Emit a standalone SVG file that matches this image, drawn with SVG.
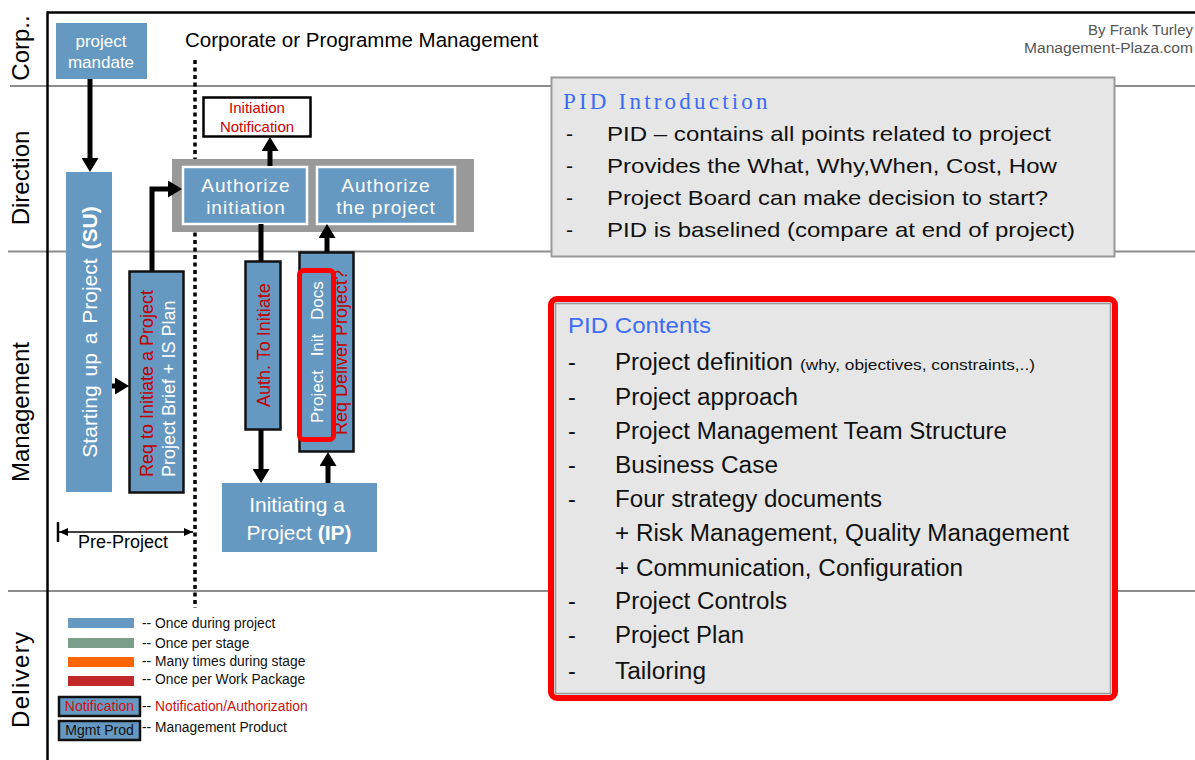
<svg xmlns="http://www.w3.org/2000/svg" width="1195" height="760" viewBox="0 0 1195 760">
<defs>
<marker id="ah" viewBox="0 0 14 17" refX="4" refY="8.5" markerWidth="14" markerHeight="17" markerUnits="userSpaceOnUse" orient="auto"><path d="M0,0 L14,8.5 L0,17 z" fill="#000"/></marker>
<marker id="sa" viewBox="0 0 9 8" refX="9" refY="4" markerWidth="9" markerHeight="8" markerUnits="userSpaceOnUse" orient="auto-start-reverse"><path d="M0,0 L9,4 L0,8 z" fill="#000"/></marker>
<style>
text{font-family:"Liberation Sans",Arial,sans-serif}
.blue{fill:#6699c2}
.prod{fill:#6699c2;stroke:#111;stroke-width:2.5}
.wt{fill:#fff}
.rd{fill:#c00000}
.conn{stroke:#000;stroke-width:5;fill:none}
.lane{stroke:#8c8c8c;stroke-width:2}
.lanel{font-size:24px;fill:#000}
.auth{fill:#6699c2;stroke:#fff;stroke-width:2.5}
.authT{font-size:19px;fill:#fff;letter-spacing:1px;text-anchor:middle}
.bul{font-size:21px;fill:#111}
.cnt{font-size:23.5px;fill:#111}
.leg{font-size:13.8px;fill:#111}
</style>
</defs>

<!-- lanes and frame -->
<g id="lanes">
<line class="lane" x1="10" y1="86" x2="1195" y2="86"/>
<line class="lane" x1="8" y1="251.5" x2="1195" y2="251.5"/>
<line class="lane" x1="8" y1="591" x2="1195" y2="591"/>
<line x1="47" y1="12.5" x2="1195" y2="12.5" stroke="#000" stroke-width="2.5"/>
<line x1="47.5" y1="11.5" x2="47.5" y2="760" stroke="#000" stroke-width="2.5"/>
<text class="lanel" transform="translate(29,48) rotate(-90)" text-anchor="middle">Corp..</text>
<text class="lanel" transform="translate(29,178) rotate(-90)" text-anchor="middle">Direction</text>
<text class="lanel" transform="translate(29,412) rotate(-90)" text-anchor="middle">Management</text>
<text class="lanel" transform="translate(29,680) rotate(-90)" text-anchor="middle" textLength="96">Delivery</text>
</g>

<line id="boundary" x1="195" y1="60" x2="195" y2="608" stroke="#000" stroke-width="3.5" stroke-dasharray="4 3.5"/>

<text x="185" y="47" font-size="20.5" fill="#000">Corporate or Programme Management</text>
<g id="byline" font-size="14" fill="#555" text-anchor="end">
<text x="1193" y="35" textLength="105" lengthAdjust="spacingAndGlyphs">By Frank Turley</text>
<text x="1193" y="53" textLength="169" lengthAdjust="spacingAndGlyphs">Management-Plaza.com</text>
</g>

<!-- nodes -->
<g id="mandate">
<rect class="blue" x="56" y="23" width="91" height="56"/>
<text class="wt" x="101" y="47" font-size="17" text-anchor="middle">project</text>
<text class="wt" x="101" y="68" font-size="17" text-anchor="middle">mandate</text>
</g>

<g id="su">
<rect class="blue" x="66" y="172" width="46" height="320"/>
<text class="wt" transform="translate(97,332) rotate(-90)" font-size="21" text-anchor="middle" word-spacing="3">Starting up a Project <tspan font-weight="bold">(SU)</tspan></text>
</g>

<g id="req-initiate">
<rect class="prod" x="129.5" y="271.5" width="54" height="221"/>
<text class="rd" transform="translate(153,477) rotate(-90)" font-size="18">Req to Initiate a Project</text>
<text class="wt" transform="translate(175,477) rotate(-90)" font-size="18">Project Brief + IS Plan</text>
</g>

<g id="direction-group">
<rect x="172" y="159" width="302" height="73" fill="#999"/>
</g>
<g id="authorize-initiation">
<rect class="auth" x="183" y="167" width="124" height="57"/>
<text class="authT" x="246" y="192">Authorize</text>
<text class="authT" x="246" y="214">initiation</text>
</g>
<g id="authorize-project">
<rect class="auth" x="317" y="167" width="138" height="57"/>
<text class="authT" x="386" y="192">Authorize</text>
<text class="authT" x="386" y="214">the project</text>
</g>

<g id="initiation-notification">
<rect x="203.5" y="97.5" width="107" height="39" fill="#fff" stroke="#000" stroke-width="2.5"/>
<text x="257" y="113" font-size="15" fill="#cc0000" text-anchor="middle">Initiation</text>
<text x="257" y="132" font-size="15" fill="#cc0000" text-anchor="middle">Notification</text>
</g>

<g id="auth-to-initiate">
<rect class="prod" x="245.5" y="261.5" width="35" height="168"/>
<text class="rd" transform="translate(270,407) rotate(-90)" font-size="18">Auth. To Initiate</text>
</g>

<g id="req-deliver">
<rect class="prod" x="299.5" y="252.5" width="54" height="199"/>
<text class="rd" transform="translate(347,435) rotate(-90)" font-size="18">Req Deliver Project?</text>
<rect x="299.5" y="270.5" width="34" height="169" rx="4" fill="#6699c2" stroke="#ff0000" stroke-width="5"/>
<text class="wt" transform="translate(323,423) rotate(-90)" font-size="17" word-spacing="9">Project Init Docs</text>
</g>

<g id="ip">
<rect class="blue" x="222" y="483" width="155" height="69"/>
<text class="wt" x="297" y="512" font-size="21" text-anchor="middle">Initiating a</text>
<text class="wt" x="299" y="540" font-size="21" text-anchor="middle">Project <tspan font-weight="bold">(IP)</tspan></text>
</g>

<g id="pre-project">
<line x1="58" y1="522" x2="58" y2="542" stroke="#000" stroke-width="2.5"/>
<line x1="59" y1="532" x2="193" y2="532" stroke="#000" stroke-width="1.5" marker-start="url(#sa)" marker-end="url(#sa)"/>
<text x="123" y="548" font-size="18" fill="#000" text-anchor="middle">Pre-Project</text>
</g>

<!-- connectors -->
<g id="connectors">
<path class="conn" d="M90,79 V162" marker-end="url(#ah)"/>
<path class="conn" d="M112,386 H119" marker-end="url(#ah)"/>
<path class="conn" d="M152,271 V189 H172" marker-end="url(#ah)"/>
<path class="conn" d="M270,166 V147" marker-end="url(#ah)"/>
<path class="conn" d="M261,224 V261"/>
<path class="conn" d="M261,430 V473" marker-end="url(#ah)"/>
<path class="conn" d="M328,483 V462" marker-end="url(#ah)"/>
<path class="conn" d="M327,252 V234" marker-end="url(#ah)"/>
</g>

<!-- PID intro -->
<g id="pid-intro">
<rect x="551.5" y="77.5" width="563" height="179" fill="#e6e6e6" stroke="#999" stroke-width="2"/>
<text x="563" y="109" font-size="23" letter-spacing="3.2" fill="#3b6cf5" style="font-family:'Liberation Serif',serif">PID Introduction</text>
<g class="bul">
<text x="566" y="141">-</text><text x="607" y="141" textLength="444" lengthAdjust="spacingAndGlyphs">PID – contains all points related to project</text>
<text x="566" y="173">-</text><text x="607" y="173" textLength="450" lengthAdjust="spacingAndGlyphs">Provides the What, Why,When, Cost, How</text>
<text x="566" y="205">-</text><text x="607" y="205" textLength="441" lengthAdjust="spacingAndGlyphs">Project Board can make decision to start?</text>
<text x="566" y="237">-</text><text x="607" y="237" textLength="468" lengthAdjust="spacingAndGlyphs">PID is baselined (compare at end of project)</text>
</g>
</g>

<!-- PID contents -->
<g id="pid-contents">
<rect x="551" y="299" width="564" height="399" rx="6" fill="#e6e6e6" stroke="#ff0000" stroke-width="6"/>
<rect x="555.5" y="303.5" width="555" height="390" fill="none" stroke="#999" stroke-width="1.5"/>
<text x="568" y="333" font-size="22" fill="#3b6cf5" textLength="143" lengthAdjust="spacingAndGlyphs">PID Contents</text>
<g class="cnt">
<text x="568" y="370">-</text><text x="615" y="370" textLength="178" lengthAdjust="spacingAndGlyphs">Project definition</text>
<text x="800" y="370" font-size="14" textLength="235" lengthAdjust="spacingAndGlyphs">(why, objectives, constraints,..)</text>
<text x="568" y="405">-</text><text x="615" y="405" textLength="183" lengthAdjust="spacingAndGlyphs">Project approach</text>
<text x="568" y="439">-</text><text x="615" y="439" textLength="392" lengthAdjust="spacingAndGlyphs">Project Management Team Structure</text>
<text x="568" y="473">-</text><text x="615" y="473" textLength="163" lengthAdjust="spacingAndGlyphs">Business Case</text>
<text x="568" y="507">-</text><text x="615" y="507" textLength="267" lengthAdjust="spacingAndGlyphs">Four strategy documents</text>
<text x="615" y="541" textLength="454" lengthAdjust="spacingAndGlyphs">+ Risk Management, Quality Management</text>
<text x="615" y="576" textLength="348" lengthAdjust="spacingAndGlyphs">+ Communication, Configuration</text>
<text x="568" y="609">-</text><text x="615" y="609" textLength="172" lengthAdjust="spacingAndGlyphs">Project Controls</text>
<text x="568" y="643">-</text><text x="615" y="643" textLength="129" lengthAdjust="spacingAndGlyphs">Project Plan</text>
<text x="568" y="679">-</text><text x="615" y="679" textLength="91" lengthAdjust="spacingAndGlyphs">Tailoring</text>
</g>
</g>

<!-- legend -->
<g id="legend">
<rect x="68" y="618" width="66" height="10" fill="#6699c2"/>
<rect x="68" y="638" width="66" height="10" fill="#7a9e8a"/>
<rect x="68" y="657" width="66" height="10" fill="#ff6600"/>
<rect x="68" y="676" width="66" height="10" fill="#c0282a"/>
<text class="leg" x="142" y="628">-- Once during project</text>
<text class="leg" x="142" y="648">-- Once per stage</text>
<text class="leg" x="142" y="666">-- Many times during stage</text>
<text class="leg" x="142" y="684">-- Once per Work Package</text>
<rect x="59" y="697" width="81" height="19" fill="#6699c2" stroke="#111" stroke-width="2.5"/>
<text x="99.5" y="711" font-size="14" fill="#cc1111" text-anchor="middle">Notification</text>
<text class="leg" x="142" y="711">-- <tspan fill="#cc1111">Notification/Authorization</tspan></text>
<rect x="59" y="721" width="81" height="19" fill="#6699c2" stroke="#111" stroke-width="2.5"/>
<text x="99.5" y="735" font-size="14" fill="#111" text-anchor="middle">Mgmt Prod</text>
<text class="leg" x="142" y="732">-- Management Product</text>
</g>
</svg>
